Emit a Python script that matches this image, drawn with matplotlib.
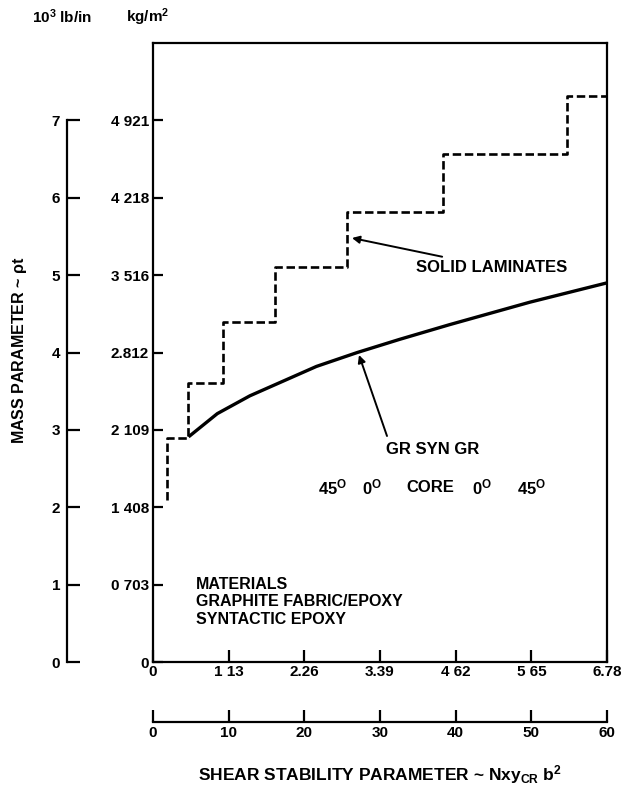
import matplotlib.pyplot as plt

plt.rcParams['font.family'] = ['Liberation Sans', 'DejaVu Sans']
plt.rcParams['font.weight'] = 'bold'
plt.rcParams['mathtext.fontset'] = 'custom'
plt.rcParams['mathtext.rm'] = 'Liberation Sans:bold'
plt.rcParams['mathtext.bf'] = 'Liberation Sans:bold'
plt.rcParams['mathtext.it'] = 'Liberation Sans:bold:italic'
plt.rcParams['mathtext.default'] = 'rm'

# shear stability parameter (lower scale 0-60) and mass parameter (10^3 lb/in)
lam_x = [1.85, 1.85, 4.6, 4.6, 9.2, 9.2, 16.1, 16.1, 25.6, 25.6, 38.3, 38.3, 54.7, 54.7, 60.0]
lam_y = [2.10, 2.90, 2.90, 3.61, 3.61, 4.39, 4.39, 5.10, 5.10, 5.82, 5.82, 6.57, 6.57, 7.31, 7.31]

syn_x = [4.7, 8.5, 12.8, 17.2, 21.6, 27.0, 32.6, 39.2, 49.8, 60.0]
syn_y = [2.91, 3.21, 3.44, 3.63, 3.82, 4.00, 4.17, 4.36, 4.65, 4.90]

lb_ticks = [0, 1, 2, 3, 4, 5, 6, 7]
kg_labels = ['0', '0 703', '1 408', '2 109', '2.812', '3 516', '4 218', '4 921']
top_ticks = [0, 10, 20, 30, 40, 50, 60]
top_labels = ['0', '1 13', '2.26', '3.39', '4 62', '5 65', '6.78']

W, H = 623, 793
fig = plt.figure(figsize=(W / 100, H / 100), dpi=100)

left, right, bottom, top = 153, 607, 662, 43
ax = fig.add_axes([left / W, 1 - bottom / H, (right - left) / W, (bottom - top) / H])
ax.set_xlim(0, 60)
ax.set_ylim(0, 8)
for s in ax.spines.values():
    s.set_linewidth(1.6)

ax.set_yticks(lb_ticks)
ax.set_yticklabels(kg_labels)
ax.set_xticks(top_ticks)
ax.set_xticklabels(top_labels)
ax.tick_params(direction='in', length=7, width=1.6, labelsize=11, pad=3)
ax.tick_params(axis='x', length=9, pad=2)

ax.plot(lam_x, lam_y, color='black', lw=1.9, ls=(0, (3.2, 1.4)), clip_on=False)
ax.plot(syn_x, syn_y, color='black', lw=2.4, solid_capstyle='butt', clip_on=False)

def px(x, y):
    return ((x - left) / (right - left) * 60, (bottom - y) / (bottom - top) * 8)

ax.annotate('SOLID LAMINATES', xy=px(352, 238), xytext=px(416, 267),
            fontsize=12, fontweight='bold', va='center', ha='left',
            arrowprops=dict(arrowstyle='-|>', color='black', lw=1.4,
                            mutation_scale=11, shrinkA=0, shrinkB=0))
ax.annotate('', xy=px(359, 355), xytext=px(387, 436),
            arrowprops=dict(arrowstyle='-|>', color='black', lw=1.4,
                            mutation_scale=11, shrinkA=0, shrinkB=0))
ax.text(*px(433, 450), 'GR SYN GR', fontsize=12, fontweight='bold', ha='center', va='center')

ply_pos = [333, 372, 430, 482, 532]
ply_txt = ['45$^{O}$', '0$^{O}$', 'CORE', '0$^{O}$', '45$^{O}$']
for xp, t in zip(ply_pos, ply_txt):
    ax.text(*px(xp, 487), t, fontsize=12, fontweight='bold', ha='center', va='center')

ax.text(*px(196, 602), 'MATERIALS\nGRAPHITE FABRIC/EPOXY\nSYNTACTIC EPOXY',
        fontsize=11.5, fontweight='bold', ha='left', va='center', linespacing=1.2)

# left scale in 10^3 lb/in
axl = fig.add_axes([67 / W, 1 - bottom / H, 0.001, (bottom - top) / H])
axl.set_ylim(0, 8)
for k in ['top', 'right', 'bottom']:
    axl.spines[k].set_visible(False)
axl.spines['left'].set_bounds(0, 7)
axl.spines['left'].set_linewidth(1.6)
axl.set_xticks([])
axl.set_yticks(lb_ticks)
axl.set_yticklabels([str(v) for v in lb_ticks])
axl.tick_params(axis='y', direction='in', length=9, width=1.6, labelsize=11, pad=5)
axl.patch.set_visible(False)

# lower scale
axb = fig.add_axes([left / W, 1 - 722 / H, (right - left) / W, 0.001])
axb.set_xlim(0, 60)
for k in ['top', 'right', 'left']:
    axb.spines[k].set_visible(False)
axb.spines['bottom'].set_linewidth(1.6)
axb.set_yticks([])
axb.set_xticks(top_ticks)
axb.tick_params(axis='x', direction='in', length=9, width=1.6, labelsize=11, pad=3)
axb.patch.set_visible(False)

fig.text(62 / W, 1 - 17 / H, '10$^{3}$ lb/in', fontsize=11, fontweight='bold', ha='center', va='center')
fig.text(148 / W, 1 - 17 / H, 'kg/m$^{2}$', fontsize=11, fontweight='bold', ha='center', va='center')
fig.text(20 / W, 1 - 350 / H, 'MASS PARAMETER ~ $\\rho$t', fontsize=11.5, fontweight='bold',
         rotation=90, ha='center', va='center')
fig.text(380 / W, 1 - 775 / H, 'SHEAR STABILITY PARAMETER ~ Nxy$_{CR}$ b$^{2}$',
         fontsize=12.5, fontweight='bold', ha='center', va='center')

fig.savefig('out.png', dpi=100)
